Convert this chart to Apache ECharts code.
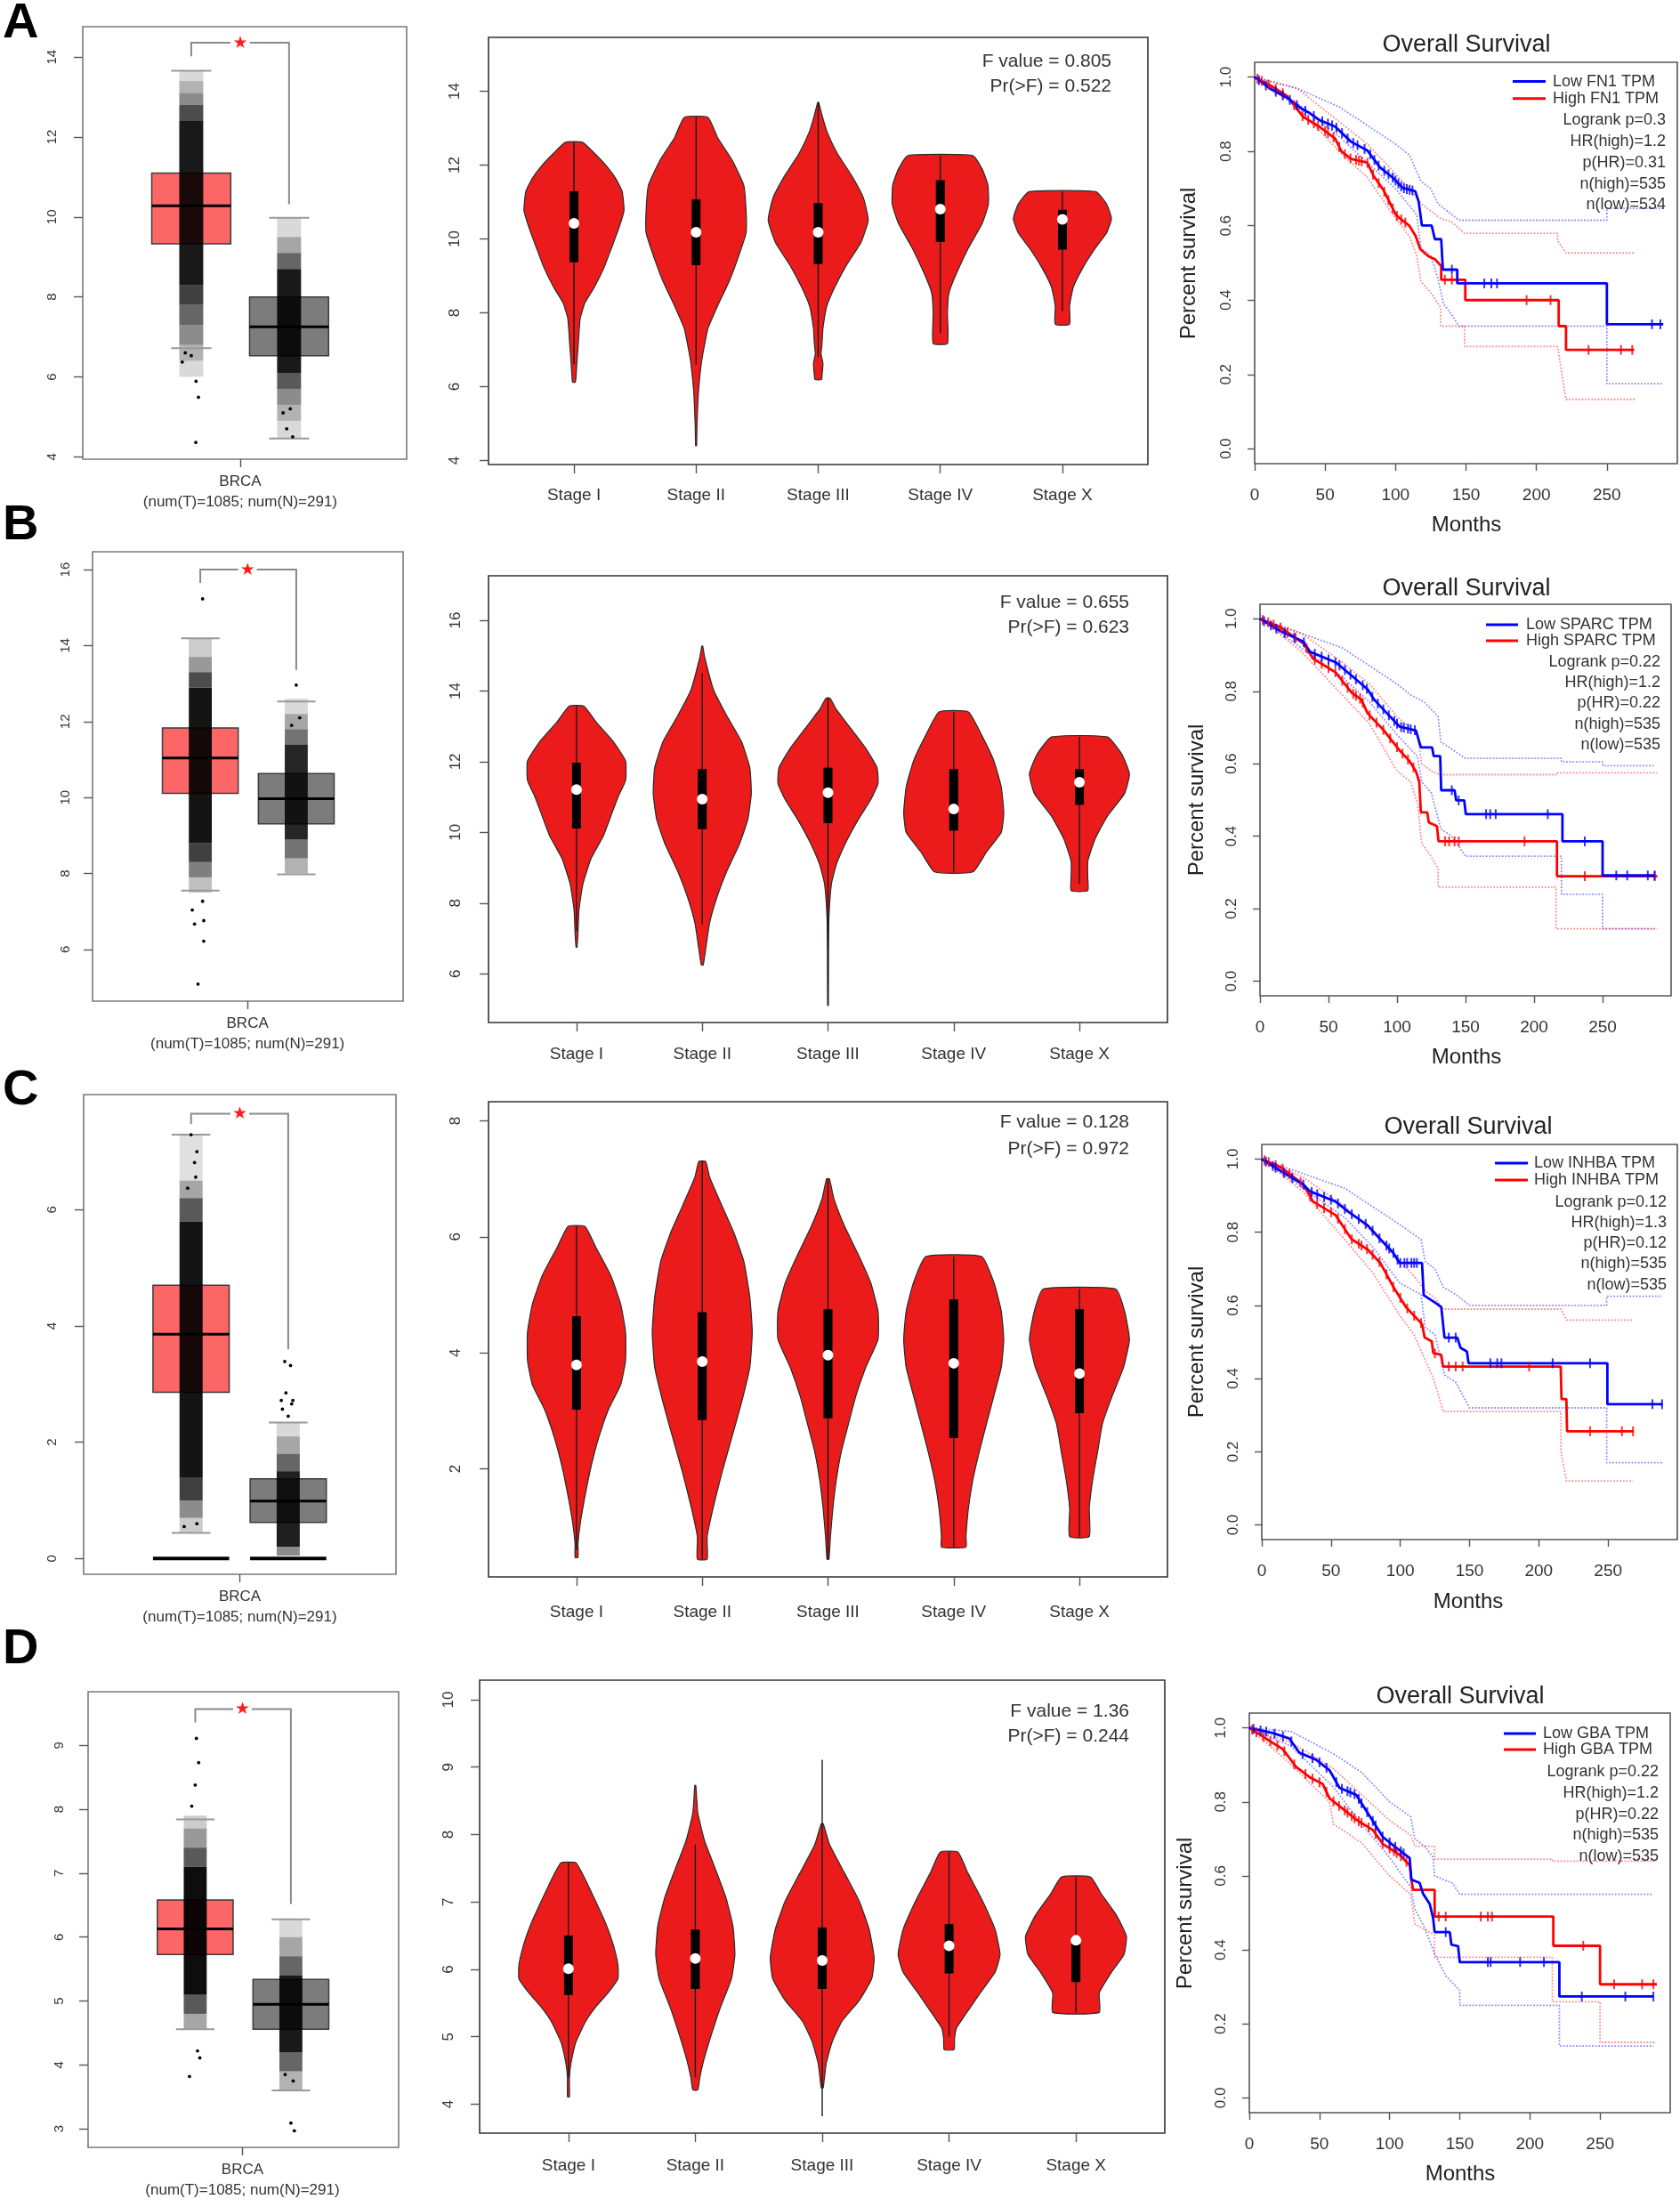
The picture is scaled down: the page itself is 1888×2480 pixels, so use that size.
<!DOCTYPE html>
<html><head><meta charset="utf-8">
<script src="https://cdn.jsdelivr.net/npm/echarts@6/dist/echarts.min.js"></script>
<style>html,body{margin:0;padding:0;background:#fff}#c{width:1888px;height:2480px}</style>
</head><body><div id="c"></div>
<script>
const FONT = '"Liberation Sans", Arial, sans-serif';
const rowLetters = ['A','B','C','D'];
const genes = ['FN1','SPARC','INHBA','GBA'];
const stages = ['Stage I','Stage II','Stage III','Stage IV','Stage X'];
const boxCaption = 'BRCA\n(num(T)=1085; num(N)=291)';

// ---------- Box plots: [lower whisker, Q1, median, Q3, upper whisker] ----------
const boxT_A = [6.72, 9.33, 10.28, 11.10, 13.66];
const boxN_A = [4.46, 6.53, 7.25, 8.00, 9.98];
const boxT_B = [7.55, 10.11, 11.04, 11.83, 14.19];
const boxN_B = [7.98, 9.31, 9.97, 10.63, 12.53];
const boxT_C = [0.44, 2.86, 3.86, 4.70, 7.29];
const boxN_C = [0.00, 0.62, 0.99, 1.37, 2.34];
const boxT_D = [4.56, 5.73, 6.13, 6.58, 7.84];
const boxN_D = [3.60, 4.56, 4.95, 5.34, 6.28];
// jitter cloud density bands [from, to, darkness]
const cloudT_A = [[6.0,6.4,0.15],[6.4,6.8,0.3],[6.8,7.3,0.45],[7.3,7.8,0.6],[7.8,8.3,0.75],[8.3,12.4,0.9],[12.4,12.8,0.7],[12.8,13.1,0.45],[13.1,13.4,0.3],[13.4,13.66,0.15]];
const cloudN_A = [[4.46,4.9,0.15],[4.9,5.3,0.3],[5.3,5.7,0.45],[5.7,6.1,0.65],[6.1,8.7,0.9],[8.7,9.1,0.6],[9.1,9.5,0.35],[9.5,9.98,0.15]];
const cloudT_B = [[7.5,7.9,0.25],[7.9,8.3,0.5],[8.3,8.8,0.75],[8.8,12.9,0.92],[12.9,13.3,0.7],[13.3,13.7,0.4],[13.7,14.2,0.2]];
const cloudN_B = [[8.0,8.4,0.3],[8.4,8.9,0.55],[8.9,11.4,0.85],[11.4,11.8,0.55],[11.8,12.2,0.35],[12.2,12.6,0.15]];
const cloudT_C = [[0.44,0.7,0.2],[0.7,1.0,0.45],[1.0,1.4,0.75],[1.4,5.8,0.92],[5.8,6.2,0.65],[6.2,6.5,0.35],[6.5,7.3,0.12]];
const cloudN_C = [[0.05,0.2,0.45],[0.2,1.5,0.88],[1.5,1.8,0.6],[1.8,2.1,0.35],[2.1,2.34,0.15]];
const cloudT_D = [[4.56,4.8,0.35],[4.8,5.1,0.65],[5.1,7.1,0.95],[7.1,7.4,0.65],[7.4,7.7,0.4],[7.7,7.9,0.2]];
const cloudN_D = [[3.6,3.9,0.3],[3.9,4.2,0.6],[4.2,5.4,0.9],[5.4,5.7,0.6],[5.7,6.0,0.35],[6.0,6.28,0.15]];
// isolated points [relative jitter offset, value]
const outT_A = [[-0.75,6.37],[0.4,5.89],[0.6,5.49],[0.38,4.36],[0.0,6.53],[-0.5,6.6]];
const outN_A = [[0.3,4.5],[-0.2,4.7],[0.1,5.2],[-0.5,5.1]];
const outT_B = [[0.2,15.23],[-0.7,7.04],[-0.5,6.67],[0.3,6.76],[0.3,6.22],[-0.2,5.09],[0.2,7.27]];
const outN_B = [[0.0,12.96],[0.3,12.1],[-0.4,11.9]];
const outT_C = [[0.0,7.29],[0.5,7.0],[0.3,6.81],[0.4,6.56],[-0.3,6.37],[-0.6,0.55],[0.5,0.6]];
const outN_C = [[-0.3,3.39],[0.2,3.32],[-0.2,2.85],[-0.6,2.72],[0.4,2.72],[-0.5,2.57],[0.3,2.66],[0.0,2.45]];
const outT_D = [[0.1,9.11],[0.3,8.73],[0.0,8.38],[-0.3,8.05],[0.2,4.22],[0.4,4.11],[-0.5,3.82]];
const outN_D = [[0.0,3.09],[0.3,2.97],[-0.5,3.85],[0.2,3.75]];
// significance bracket [top, left leg end, right leg end]
const bracket_A = [14.36, 14.02, 10.32];
const bracket_B = [16.0, 15.65, 13.36];
const bracket_C = [7.65, 7.47, 3.6];
const bracket_D = [9.57, 9.36, 6.52];
const boxTicks_A = [4,6,8,10,12,14];
const boxTicks_B = [6,8,10,12,14,16];
const boxTicks_C = [0,2,4,6];
const boxTicks_D = [3,4,5,6,7,8,9];

// ---------- Violins: outline [value, relative half width] top→bottom ----------
const vio_A = [
 [[12.62,0.18],[12.32,0.43],[11.98,0.68],[11.63,0.88],[11.29,1.01],[10.77,1.05],[10.25,0.93],[9.73,0.78],[9.22,0.63],[8.70,0.43],[8.27,0.23],[7.84,0.13],[7.15,0.09],[6.63,0.06],[6.12,0.03]],
 [[13.29,0.25],[12.75,0.45],[12.15,0.75],[11.46,1.0],[10.77,1.05],[10.17,1.05],[9.56,0.9],[8.87,0.7],[8.18,0.45],[7.58,0.25],[6.72,0.12],[5.86,0.05],[5.0,0.02],[4.4,0.01]],
 [[13.7,0.01],[13.35,0.08],[12.92,0.18],[12.32,0.4],[11.72,0.7],[11.11,0.95],[10.51,1.05],[9.91,0.9],[9.30,0.6],[8.70,0.35],[8.18,0.18],[7.58,0.1],[7.15,0.08],[6.89,0.06],[6.63,0.1],[6.29,0.08],[6.19,0.07]],
 [[12.26,0.68],[11.89,0.88],[11.46,1.0],[10.94,1.01],[10.42,0.88],[9.73,0.58],[9.04,0.33],[8.53,0.18],[8.01,0.15],[7.17,0.15]],
 [[11.28,0.7],[10.94,0.93],[10.55,1.03],[10.17,0.93],[9.73,0.68],[9.22,0.43],[8.70,0.23],[8.18,0.15],[7.69,0.15]]
];
const vio_B = [
 [[13.57,0.15],[13.12,0.4],[12.57,0.75],[12.02,1.0],[11.47,1.0],[11.01,0.85],[10.46,0.7],[9.91,0.55],[9.27,0.3],[8.54,0.13],[7.80,0.05],[7.16,0.03],[6.75,0.01]],
 [[15.27,0.01],[14.95,0.05],[14.03,0.23],[13.30,0.5],[12.57,0.8],[11.83,0.97],[11.10,1.0],[10.37,0.93],[9.64,0.75],[8.90,0.5],[8.17,0.3],[7.44,0.15],[6.70,0.07],[6.25,0.02]],
 [[13.80,0.04],[13.48,0.17],[12.93,0.47],[12.38,0.77],[11.83,1.0],[11.38,1.02],[10.92,0.87],[10.37,0.62],[9.73,0.37],[9.09,0.17],[8.54,0.07],[7.62,0.02],[6.71,0.01],[5.10,0.005]],
 [[13.41,0.3],[12.75,0.57],[12.02,0.82],[11.28,0.97],[10.55,1.02],[10.0,0.97],[9.45,0.67],[8.88,0.39]],
 [[12.70,0.57],[12.20,0.87],[11.65,1.02],[11.10,0.92],[10.46,0.57],[9.82,0.32],[9.18,0.17],[8.72,0.17],[8.35,0.17]]
];
const vio_C = [
 [[6.18,0.17],[5.81,0.4],[5.33,0.7],[4.84,0.9],[4.36,1.0],[3.87,1.0],[3.45,0.9],[3.02,0.65],[2.53,0.45],[2.05,0.3],[1.56,0.18],[1.08,0.08],[0.71,0.03],[0.47,0.03]],
 [[7.30,0.07],[7.03,0.15],[6.54,0.4],[6.06,0.65],[5.57,0.85],[4.96,0.97],[4.36,1.02],[3.75,0.97],[3.14,0.8],[2.53,0.6],[1.93,0.4],[1.32,0.22],[0.83,0.1],[0.44,0.1]],
 [[7.0,0.03],[6.66,0.12],[6.18,0.34],[5.69,0.62],[5.21,0.87],[4.72,1.02],[4.23,1.02],[3.75,0.77],[3.26,0.57],[2.78,0.42],[2.29,0.27],[1.81,0.17],[1.32,0.1],[0.83,0.05],[0.44,0.02]],
 [[5.66,0.57],[5.21,0.82],[4.72,0.97],[4.23,1.02],[3.75,0.97],[3.26,0.82],[2.78,0.67],[2.29,0.52],[1.81,0.39],[1.32,0.3],[0.83,0.25],[0.65,0.25]],
 [[5.10,0.74],[4.72,0.92],[4.23,1.02],[3.75,0.9],[3.26,0.67],[2.78,0.47],[2.29,0.37],[1.81,0.27],[1.32,0.2],[0.83,0.2]]
];
const vio_D = [
 [[7.58,0.15],[7.32,0.35],[7.01,0.55],[6.69,0.75],[6.38,0.9],[6.07,1.0],[5.86,1.0],[5.65,0.8],[5.44,0.55],[5.23,0.35],[4.92,0.15],[4.60,0.05],[4.39,0.02],[4.11,0.02]],
 [[8.73,0.01],[8.32,0.05],[7.90,0.19],[7.48,0.41],[7.06,0.62],[6.64,0.76],[6.22,0.8],[5.86,0.73],[5.44,0.51],[5.02,0.32],[4.65,0.17],[4.39,0.09],[4.21,0.05]],
 [[8.16,0.02],[7.85,0.15],[7.43,0.45],[7.01,0.75],[6.59,0.95],[6.17,1.05],[5.86,1.0],[5.54,0.75],[5.23,0.4],[4.92,0.2],[4.60,0.08],[4.24,0.02]],
 [[7.74,0.18],[7.43,0.38],[7.01,0.68],[6.59,0.93],[6.22,1.03],[5.96,0.93],[5.65,0.63],[5.33,0.33],[5.13,0.15],[4.97,0.11],[4.81,0.1]],
 [[7.37,0.29],[7.11,0.52],[6.80,0.82],[6.49,1.02],[6.22,0.97],[5.96,0.72],[5.65,0.47],[5.36,0.47]]
];
// inner box [line low, Q1, median, Q3, line high]
const vioStats_A = [[6.6,9.37,10.42,11.29,12.62],[6.6,9.29,10.18,11.07,13.29],[6.8,9.32,10.18,10.97,13.7],[7.45,9.92,10.81,11.59,12.26],[8.05,9.71,10.53,10.79,11.28]];
const vioStats_B = [[7.2,10.11,11.21,11.97,13.57],[7.4,10.09,10.94,11.79,14.5],[5.10,10.26,11.12,11.83,13.80],[8.88,10.05,10.66,11.79,13.41],[8.55,10.78,11.42,11.79,12.70]];
const vioStats_C = [[0.6,3.02,3.79,4.63,6.18],[0.44,2.84,3.85,4.70,7.30],[0.44,2.87,3.96,4.75,7.0],[0.65,2.53,3.82,4.92,5.66],[0.83,2.96,3.64,4.75,5.10]];
const vioStats_D = [[4.39,5.62,6.01,6.50,7.58],[4.4,5.71,6.16,6.59,7.85],[3.82,5.71,6.13,6.62,9.11],[5.0,5.94,6.35,6.67,7.74],[5.36,5.81,6.43,6.49,7.37]];
const fText_A = ['F value = 0.805','Pr(>F) = 0.522'];
const fText_B = ['F value = 0.655','Pr(>F) = 0.623'];
const fText_C = ['F value = 0.128','Pr(>F) = 0.972'];
const fText_D = ['F value = 1.36','Pr(>F) = 0.244'];
const vioTicks_A = [4,6,8,10,12,14];
const vioTicks_B = [6,8,10,12,14,16];
const vioTicks_C = [2,4,6,8];
const vioTicks_D = [4,5,6,7,8,9,10];

// ---------- Kaplan–Meier [months, survival] ----------
const kmLow_A = [[0,1],[11.4,0.968],[22.8,0.945],[34.2,0.913],[38.8,0.904],[45.7,0.885],[57.1,0.867],[68.5,0.826],[79.9,0.803],[89,0.757],[98.2,0.729],[105,0.702],[114,0.693],[116.4,0.665],[118.7,0.601],[125.6,0.601],[127.9,0.564],[132.4,0.564],[133.6,0.482],[143.8,0.482],[143.8,0.445],[250,0.445],[250,0.335],[290,0.335]];
const kmHigh_A = [[0,1],[11.4,0.977],[22.8,0.95],[34.2,0.894],[45.7,0.867],[57.1,0.835],[61.6,0.80],[68.5,0.78],[79.9,0.77],[84.5,0.734],[91.3,0.697],[100.5,0.628],[109.6,0.601],[114.2,0.573],[117.6,0.537],[123.3,0.518],[127.9,0.51],[132.4,0.492],[132.4,0.455],[149.5,0.455],[149.5,0.40],[215.8,0.40],[215.8,0.330],[221,0.330],[221,0.266],[269.4,0.266]];
const ciLowUp_A = [[0,1],[30,0.97],[60,0.92],[80,0.87],[100,0.82],[110,0.79],[118,0.72],[125,0.70],[130,0.66],[140,0.63],[145,0.615],[250,0.615],[250,0.647],[290,0.647]];
const ciLowLo_A = [[0,1],[30,0.93],[60,0.84],[80,0.77],[100,0.70],[115,0.63],[118,0.54],[125,0.52],[130,0.46],[134,0.39],[140,0.36],[145,0.33],[250,0.33],[250,0.175],[290,0.175]];
const ciHighUp_A = [[0,1],[30,0.97],[60,0.88],[80,0.82],[100,0.74],[110,0.70],[118,0.66],[125,0.64],[132,0.62],[140,0.61],[149,0.58],[215,0.58],[215,0.56],[221,0.527],[270,0.527]];
const ciHighLo_A = [[0,1],[30,0.92],[60,0.80],[80,0.73],[100,0.62],[110,0.57],[115,0.52],[118,0.45],[125,0.42],[132,0.38],[132,0.33],[149,0.33],[149,0.275],[215,0.275],[221,0.133],[270,0.133]];
const censLow_A = [3,8,15,20,25,30,36,42,48,52,55,58,62,66,70,73,78,82,85,88,92,95,98,100,102,104,106,108,110,112,140,163,168,172,282,288];
const censHigh_A = [2,5,10,15,20,28,34,38,42,45,50,52,56,60,64,68,72,74,76,80,84,88,92,95,98,101,104,107,135,140,193,210,237,260,268];

const kmLow_B = [[0,1],[15.3,0.965],[31.7,0.937],[36.4,0.909],[55.2,0.88],[66.9,0.843],[78.6,0.805],[83.3,0.777],[92.7,0.739],[102.1,0.702],[113.8,0.692],[117.4,0.645],[125.6,0.645],[126.8,0.621],[131.5,0.621],[132.2,0.527],[142,0.527],[143.2,0.499],[149,0.499],[150.2,0.461],[220.7,0.461],[220.7,0.386],[250,0.386],[250,0.292],[287.6,0.292]];
const kmHigh_B = [[0,1],[15.3,0.975],[31.7,0.932],[38.7,0.89],[55.2,0.852],[66.9,0.796],[73.9,0.777],[78.6,0.739],[90.4,0.692],[102.1,0.636],[109.2,0.607],[113.8,0.579],[116.2,0.551],[117.4,0.466],[122.1,0.466],[123.2,0.438],[129.1,0.428],[130.3,0.386],[216.7,0.386],[216.7,0.29],[290,0.29]];
const ciLowUp_B = [[0,1],[30,0.96],[60,0.92],[80,0.87],[100,0.82],[110,0.79],[120,0.77],[130,0.73],[132,0.66],[140,0.64],[150,0.615],[220,0.615],[220,0.605],[250,0.605],[250,0.595],[288,0.595]];
const ciLowLo_B = [[0,1],[30,0.92],[60,0.84],[80,0.77],[100,0.68],[115,0.62],[118,0.55],[125,0.52],[132,0.42],[140,0.40],[150,0.345],[220,0.345],[220,0.24],[250,0.24],[250,0.145],[288,0.145]];
const ciHighUp_B = [[0,1],[30,0.96],[60,0.88],[80,0.82],[100,0.73],[115,0.68],[118,0.60],[125,0.58],[131,0.57],[216,0.57],[216,0.575],[290,0.575]];
const ciHighLo_B = [[0,1],[30,0.91],[60,0.79],[80,0.71],[100,0.58],[110,0.55],[115,0.49],[118,0.38],[124,0.35],[130,0.31],[130,0.26],[216,0.26],[216,0.145],[290,0.145]];
const censLow_B = [3,8,12,18,25,32,40,45,50,55,58,62,66,70,75,78,82,86,90,94,98,100,103,105,108,110,113,140,145,165,168,172,210,237,260,268,283,288];
const censHigh_B = [2,6,10,15,20,26,34,40,45,50,55,60,64,68,70,73,75,80,85,90,95,100,104,108,112,135,138,142,145,193,237,288];

const kmLow_C = [[0,1],[13.9,0.967],[30.1,0.93],[34.7,0.912],[53.2,0.884],[62.5,0.856],[76.4,0.819],[85.6,0.781],[94.9,0.744],[99.5,0.716],[115.7,0.716],[116.9,0.628],[126.2,0.605],[129.6,0.595],[131.9,0.512],[141.2,0.512],[143.5,0.484],[148.1,0.474],[149.3,0.442],[249.5,0.442],[249.5,0.33],[289.4,0.33]];
const kmHigh_C = [[0,1],[13.9,0.977],[30.1,0.93],[37,0.884],[53.2,0.847],[64.8,0.781],[76.4,0.753],[85.6,0.716],[94.9,0.651],[104.2,0.595],[115.7,0.549],[117.6,0.512],[122.7,0.502],[123.8,0.47],[129.6,0.465],[130.8,0.433],[215.8,0.433],[216.4,0.344],[219.9,0.344],[220.4,0.256],[268.5,0.256]];
const ciLowUp_C = [[0,1],[30,0.96],[60,0.92],[80,0.87],[100,0.82],[115,0.78],[118,0.72],[125,0.70],[131,0.65],[140,0.63],[150,0.60],[249,0.60],[249,0.625],[289,0.625]];
const ciLowLo_C = [[0,1],[30,0.92],[60,0.84],[80,0.76],[100,0.66],[115,0.63],[118,0.54],[125,0.52],[132,0.41],[140,0.39],[150,0.32],[249,0.32],[249,0.17],[289,0.17]];
const ciHighUp_C = [[0,1],[30,0.95],[60,0.87],[80,0.80],[100,0.72],[110,0.68],[118,0.64],[125,0.62],[131,0.59],[216,0.59],[220,0.56],[268,0.56]];
const ciHighLo_C = [[0,1],[30,0.91],[60,0.78],[80,0.69],[100,0.57],[110,0.52],[118,0.45],[124,0.40],[131,0.31],[216,0.31],[216,0.20],[220,0.12],[268,0.12]];
const censLow_C = [3,8,10,16,22,30,36,40,45,50,55,60,65,70,75,80,85,90,92,95,98,100,103,105,108,110,112,135,140,165,170,173,210,237,282,289];
const censHigh_C = [2,5,10,15,20,28,35,40,45,50,55,60,65,70,72,76,80,85,90,95,100,105,110,115,125,135,140,145,193,237,260,268];

const kmLow_D = [[0,1],[16.7,0.986],[28.6,0.971],[35.7,0.933],[47.6,0.914],[57.1,0.886],[64.3,0.838],[76.2,0.819],[85.7,0.762],[95.2,0.705],[104.8,0.676],[114.3,0.648],[115.5,0.59],[121.4,0.581],[123.8,0.552],[128.6,0.524],[131,0.486],[132.1,0.448],[142.9,0.448],[144,0.414],[148.8,0.41],[150,0.367],[221,0.367],[221,0.274],[288,0.274]];
const kmHigh_D = [[0,1],[11.9,0.971],[23.8,0.943],[33.3,0.895],[42.9,0.867],[52.4,0.848],[57.1,0.81],[66.7,0.781],[76.2,0.752],[88.1,0.724],[95.2,0.686],[107.1,0.657],[114.3,0.629],[115.5,0.59],[116.7,0.562],[132.1,0.562],[132.1,0.49],[216.7,0.49],[216.7,0.411],[250,0.411],[250,0.307],[290.5,0.307]];
const ciLowUp_D = [[0,1],[30,0.99],[60,0.93],[80,0.88],[100,0.80],[115,0.76],[118,0.70],[125,0.68],[131,0.65],[132,0.60],[145,0.58],[150,0.55],[288,0.55]];
const ciLowLo_D = [[0,1],[30,0.95],[60,0.84],[80,0.74],[100,0.65],[115,0.57],[118,0.51],[125,0.46],[132,0.39],[140,0.33],[150,0.29],[150,0.25],[221,0.25],[221,0.14],[288,0.14]];
const ciHighUp_D = [[0,1],[30,0.96],[60,0.89],[80,0.82],[100,0.75],[115,0.71],[118,0.68],[132,0.68],[132,0.645],[216,0.645],[216,0.64],[290,0.64]];
const ciHighLo_D = [[0,1],[30,0.90],[57,0.80],[60,0.74],[80,0.69],[100,0.60],[115,0.55],[118,0.47],[132,0.44],[132,0.38],[216,0.38],[216,0.26],[250,0.26],[250,0.15],[290,0.15]];
const censLow_D = [3,8,12,18,24,30,38,45,50,55,62,66,70,72,75,78,80,84,88,90,95,100,104,108,110,140,170,172,193,210,237,268,288];
const censHigh_D = [2,5,10,15,20,25,32,40,45,50,55,60,64,68,70,73,75,78,80,85,90,95,100,103,105,108,112,135,140,165,170,173,238,260,280,288];

const kmStats_A = ['Logrank p=0.3','HR(high)=1.2','p(HR)=0.31','n(high)=535','n(low)=534'];
const kmStats_B = ['Logrank p=0.22','HR(high)=1.2','p(HR)=0.22','n(high)=535','n(low)=535'];
const kmStats_C = ['Logrank p=0.12','HR(high)=1.3','p(HR)=0.12','n(high)=535','n(low)=535'];
const kmStats_D = ['Logrank p=0.22','HR(high)=1.2','p(HR)=0.22','n(high)=535','n(low)=535'];
const kmYTicks = [0,0.2,0.4,0.6,0.8,1.0];
const kmXTicks = [0,50,100,150,200,250];

// ================= layout / build =================
const grids=[], xAxes=[], yAxes=[], series=[], graphics=[];
const BOX_HW=0.122, JIT=0.037, CAP=0.062, GAP=0.03, VW=0.39;

function addGrid(r, border){
  grids.push({left:r[0], top:r[1], width:r[2], height:r[3], show:true, borderColor:border, borderWidth:1.6,
    backgroundColor:'transparent', containLabel:false, outerBoundsMode:'none'});
  return grids.length-1;
}
function axis(gi, range, ticks, o){
  return {type:'value', gridIndex:gi, min:range[0], max:range[1], axisLine:{show:false, onZero:false}, splitLine:{show:false},
    axisTick:{show:true, length:o.tl||8, customValues:ticks, lineStyle:{color:'#555', width:1.4}},
    axisLabel:{show:true, customValues:ticks, rotate:o.rot||0, margin:o.m, fontSize:o.fs, fontFamily:FONT, color:'#333',
      lineHeight:o.lh, formatter:o.fmt}};
}
function txt(x,y,text,fs,align,opts){
  opts=opts||{};
  graphics.push({type:'text', x, y, rotation:opts.rot||0, silent:true, z:100,
    style:{text, fill:opts.fill||'#222', fontSize:fs, fontFamily:FONT, fontWeight:opts.bold?'bold':'normal',
      align:align, textAlign:align, verticalAlign:'middle', textVerticalAlign:'middle'}});
}

// ---- box panels ----
const boxPanels = [
 {r:[93,30,364,486], y:[3.94,14.76], ticks:boxTicks_A, T:boxT_A, N:boxN_A, cT:cloudT_A, cN:cloudN_A, oT:outT_A, oN:outN_A, br:bracket_A, cx:[0.335,0.637], tick:0.486, ym:27, zero:false},
 {r:[104,620,349,505], y:[4.64,16.47], ticks:boxTicks_B, T:boxT_B, N:boxN_B, cT:cloudT_B, cN:cloudN_B, oT:outT_B, oN:outN_B, br:bracket_B, cx:[0.347,0.656], tick:0.499, ym:23, zero:false},
 {r:[94,1230,351,539], y:[-0.27,7.98], ticks:boxTicks_C, T:boxT_C, N:boxN_C, cT:cloudT_C, cN:cloudN_C, oT:outT_C, oN:outN_C, br:bracket_C, cx:[0.344,0.655], tick:0.50, ym:28, zero:true},
 {r:[99,1901,349,512], y:[2.71,9.84], ticks:boxTicks_D, T:boxT_D, N:boxN_D, cT:cloudT_D, cN:cloudN_D, oT:outT_D, oN:outN_D, br:bracket_D, cx:[0.345,0.653], tick:0.497, ym:25, zero:false}
];
function seg(a,b,stroke,w){return {type:'line', shape:{x1:a[0],y1:a[1],x2:b[0],y2:b[1]}, style:{stroke, lineWidth:w, lineCap:'butt'}};}
function makeBoxRender(P){
  return function(params, api){
    const i=params.dataIndex, cx=api.value(0);
    const st=i?P.N:P.T, cloud=i?P.cN:P.cT, outs=i?P.oN:P.oT;
    const ch=[];
    const a=api.coord([cx-BOX_HW, st[3]]), b=api.coord([cx+BOX_HW, st[1]]);
    ch.push({type:'rect', shape:{x:a[0],y:a[1],width:b[0]-a[0],height:b[1]-a[1]}, style:{fill:i?'#7c7c7c':'#fb6666', stroke:'#3c3c3c', lineWidth:1.5}});
    if(P.zero){ ch.push(seg(api.coord([cx-BOX_HW,0]), api.coord([cx+BOX_HW,0]), '#000', 4)); }
    cloud.forEach(function(c){
      const p=api.coord([cx-JIT, c[1]]), q=api.coord([cx+JIT, c[0]]);
      ch.push({type:'rect', shape:{x:p[0],y:p[1],width:q[0]-p[0],height:q[1]-p[1]}, style:{fill:'rgba(0,0,0,'+c[2]+')'}});
    });
    ch.push(seg(api.coord([cx-BOX_HW, st[2]]), api.coord([cx+BOX_HW, st[2]]), '#000', 3));
    if(!(P.zero && st[0]===0)){ ch.push(seg(api.coord([cx-CAP, st[0]]), api.coord([cx+CAP, st[0]]), '#999', 2)); }
    ch.push(seg(api.coord([cx-CAP, st[4]]), api.coord([cx+CAP, st[4]]), '#999', 2));
    outs.forEach(function(o){ const p=api.coord([cx+o[0]*JIT, o[1]]); ch.push({type:'circle', shape:{cx:p[0],cy:p[1],r:1.9}, style:{fill:'#000'}}); });
    if(i===0){
      const br=P.br;
      const Lb=api.coord([P.cx[0],br[1]]), L=api.coord([P.cx[0],br[0]]), T0=api.coord([P.tick-GAP,br[0]]);
      const T1=api.coord([P.tick+GAP,br[0]]), R=api.coord([P.cx[1],br[0]]), Rb=api.coord([P.cx[1],br[2]]);
      ch.push({type:'polyline', shape:{points:[Lb,L,T0]}, style:{stroke:'#8a8a8a', lineWidth:2, fill:null}});
      ch.push({type:'polyline', shape:{points:[T1,R,Rb]}, style:{stroke:'#8a8a8a', lineWidth:2, fill:null}});
      const s=api.coord([P.tick, br[0]]);
      ch.push({type:'text', x:s[0], y:s[1]+1, style:{text:'★', fill:'#ff1a1a', fontSize:19, fontFamily:'DejaVu Sans', align:'center', verticalAlign:'middle'}});
    }
    return {type:'group', children:ch};
  };
}
boxPanels.forEach(function(P){
  const gi=addGrid(P.r, '#7a7a7a');
  xAxes.push(axis(gi,[0,1],[P.tick],{m:14, fs:17, lh:23, tl:9, fmt:function(){return boxCaption;}}));
  yAxes.push(axis(gi,P.y,P.ticks,{rot:90, m:P.ym, fs:15, tl:10, fmt:function(v){return String(v);}}));
  series.push({type:'custom', xAxisIndex:gi, yAxisIndex:gi, renderItem:makeBoxRender(P), silent:true,
    data:[[P.cx[0], P.T[2]],[P.cx[1], P.N[2]]], z:2});
});

// ---- violin panels ----
const vioPanels = [
 {r:[549,42,741,480], y:[3.89,15.46], ticks:vioTicks_A, sh:vio_A, st:vioStats_A, f:fText_A, fy:[69,97], fx:1249, xm:25, ym:29},
 {r:[549,647,763,502], y:[4.62,17.26], ticks:vioTicks_B, sh:vio_B, st:vioStats_B, f:fText_B, fy:[677,705], fx:1269, xm:26, ym:28},
 {r:[549,1238,763,534], y:[0.135,8.33], ticks:vioTicks_C, sh:vio_C, st:vioStats_C, f:fText_C, fy:[1261,1291], fx:1269, xm:30, ym:28},
 {r:[539,1888,770,509], y:[3.57,10.29], ticks:vioTicks_D, sh:vio_D, st:vioStats_D, f:fText_D, fy:[1923,1951], fx:1269, xm:27, ym:26}
];
function makeVioRender(shapes, stats){
  return function(params, api){
    const k=params.dataIndex, x=api.value(0), sh=shapes[k], st=stats[k];
    const right=sh.map(function(p){return api.coord([x+p[1]*VW, p[0]]);});
    const left=sh.slice().reverse().map(function(p){return api.coord([x-p[1]*VW, p[0]]);});
    const c=function(v){return api.coord([x,v]);};
    return {type:'group', children:[
      {type:'polygon', shape:{points:right.concat(left), smooth:0.15}, style:{fill:'#ec1b1b', stroke:'#2a2a2a', lineWidth:1.2}},
      seg(c(st[0]), c(st[4]), '#1a1a1a', 1.4),
      seg(c(st[1]), c(st[3]), '#000', 10),
      {type:'circle', shape:{cx:c(st[2])[0], cy:c(st[2])[1], r:6}, style:{fill:'#fff'}}
    ]};
  };
}
vioPanels.forEach(function(V){
  const gi=addGrid(V.r, '#333');
  xAxes.push(axis(gi,[0.3,5.7],[1,2,3,4,5],{m:V.xm, fs:19, tl:10, fmt:function(v){return stages[Math.round(v)-1];}}));
  yAxes.push(axis(gi,V.y,V.ticks,{rot:90, m:V.ym, fs:17, tl:10, fmt:function(v){return String(v);}}));
  series.push({type:'custom', xAxisIndex:gi, yAxisIndex:gi, renderItem:makeVioRender(V.sh, V.st), silent:true,
    data:V.st.map(function(s,k){return [k+1, s[2]];}), z:2});
  txt(V.fx, V.fy[0], V.f[0], 21, 'right', {fill:'#333'});
  txt(V.fx, V.fy[1], V.f[1], 21, 'right', {fill:'#333'});
});

// ---- KM panels ----
const kmPanels = [
 {r:[1410,70,475,451], low:kmLow_A, high:kmHigh_A, ci:[ciLowUp_A,ciLowLo_A,ciHighUp_A,ciHighLo_A], cl:censLow_A, chh:censHigh_A, stats:kmStats_A, gene:genes[0],
  title:[1648,51], leg:[1700,1737,91.6,110.7,1745], sx:1872, sy:[135,159,183,207,230], ps:[1336,296], mo:[1648,590]},
 {r:[1416,679,462,440], low:kmLow_B, high:kmHigh_B, ci:[ciLowUp_B,ciLowLo_B,ciHighUp_B,ciHighLo_B], cl:censLow_B, chh:censHigh_B, stats:kmStats_B, gene:genes[1],
  title:[1648,662], leg:[1670,1706,702,720,1715], sx:1866, sy:[744,767,790,814,837], ps:[1345,899], mo:[1648,1188]},
 {r:[1418,1286,467,444], low:kmLow_C, high:kmHigh_C, ci:[ciLowUp_C,ciLowLo_C,ciHighUp_C,ciHighLo_C], cl:censLow_C, chh:censHigh_C, stats:kmStats_C, gene:genes[2],
  title:[1650,1267], leg:[1680,1717,1307,1326,1724], sx:1873, sy:[1351,1374,1397,1420,1444], ps:[1345,1508], mo:[1650,1800]},
 {r:[1404,1925,473,449], low:kmLow_D, high:kmHigh_D, ci:[ciLowUp_D,ciLowLo_D,ciHighUp_D,ciHighLo_D], cl:censLow_D, chh:censHigh_D, stats:kmStats_D, gene:genes[3],
  title:[1641,1907], leg:[1690,1726,1948,1966,1734], sx:1864, sy:[1991,2015,2039,2062,2086], ps:[1332,2150], mo:[1641,2443]}
];
function survAt(curve, t){
  for(let j=0;j<curve.length-1;j++){
    const a=curve[j], b=curve[j+1];
    if(t>=a[0] && t<=b[0] && b[0]>a[0]) return a[1]+(b[1]-a[1])*(t-a[0])/(b[0]-a[0]);
  }
  return curve[curve.length-1][1];
}
kmPanels.forEach(function(K){
  const gi=addGrid(K.r, '#555');
  xAxes.push(axis(gi,[0,300],kmXTicks,{m:26, fs:19, tl:8, fmt:function(v){return String(v);}}));
  yAxes.push(axis(gi,[-0.04,1.04],kmYTicks,{rot:90, m:23, fs:17, tl:8, fmt:function(v){return v.toFixed(1);}}));
  const cols=['#0000ff','#0000ff','#ff0000','#ff0000'];
  K.ci.forEach(function(d,j){
    series.push({type:'line', xAxisIndex:gi, yAxisIndex:gi, data:d, symbol:'none', silent:true, z:2,
      lineStyle:{color:cols[j], width:1.8, type:'dotted', opacity:0.45}});
  });
  [[K.high,'#ff0000',K.chh],[K.low,'#0000ff',K.cl]].forEach(function(s){
    series.push({type:'line', xAxisIndex:gi, yAxisIndex:gi, data:s[0], symbol:'none', silent:true, z:3,
      lineStyle:{color:s[1], width:2.8}});
    series.push({type:'scatter', xAxisIndex:gi, yAxisIndex:gi, silent:true, z:4, symbol:'rect', symbolSize:[2,11],
      itemStyle:{color:s[1]}, data:s[2].map(function(t){return [t, survAt(s[0], t)];})});
  });
  txt(K.title[0], K.title[1], 'Overall Survival', 27, 'center', {fill:'#222'});
  graphics.push({type:'line', silent:true, shape:{x1:K.leg[0],y1:K.leg[2],x2:K.leg[1],y2:K.leg[2]}, style:{stroke:'#0000ff', lineWidth:3}});
  graphics.push({type:'line', silent:true, shape:{x1:K.leg[0],y1:K.leg[3],x2:K.leg[1],y2:K.leg[3]}, style:{stroke:'#ff0000', lineWidth:3}});
  txt(K.leg[4], K.leg[2], 'Low '+K.gene+' TPM', 18, 'left', {fill:'#333'});
  txt(K.leg[4], K.leg[3], 'High '+K.gene+' TPM', 18, 'left', {fill:'#333'});
  K.stats.forEach(function(s,j){ txt(K.sx, K.sy[j], s, 18, 'right', {fill:'#333'}); });
  txt(K.ps[0], K.ps[1], 'Percent survival', 24, 'center', {rot:Math.PI/2, fill:'#222'});
  txt(K.mo[0], K.mo[1], 'Months', 24, 'center', {fill:'#222'});
});

// panel letters
[[27],[591],[1226],[1854]].forEach(function(p,j){ txt(3, p[0], rowLetters[j], 56, 'left', {bold:true, fill:'#000'}); });

const chart = echarts.init(document.getElementById('c'), null, {renderer:'canvas', width:1888, height:2480});
chart.setOption({animation:false, backgroundColor:'#fff', grid:grids, xAxis:xAxes, yAxis:yAxes, series:series, graphic:graphics});
</script></body></html>
